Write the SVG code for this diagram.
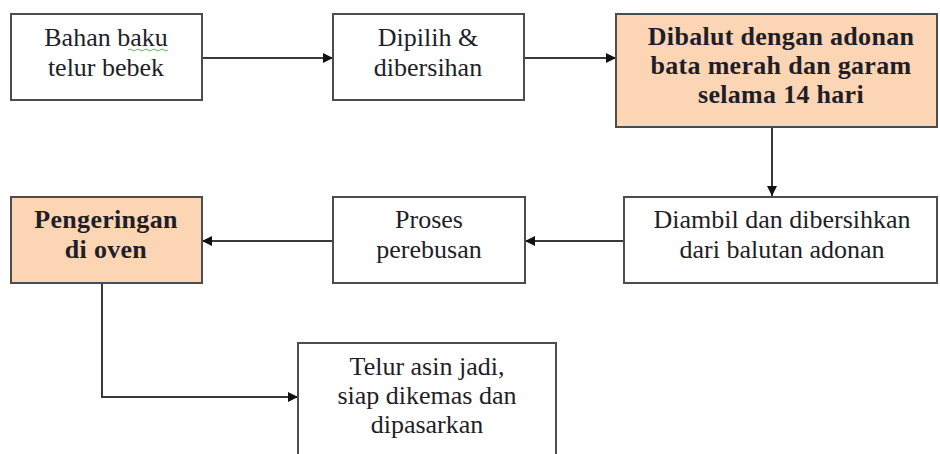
<svg xmlns="http://www.w3.org/2000/svg" width="940" height="454" viewBox="0 0 940 454">
<style>
.box{fill:#fff;stroke:#4d4d4d;stroke-width:2}
.hl{fill:#fcd5b4}
.t{font-family:"Liberation Serif","Times New Roman",serif;font-size:26px;fill:#1e1e28;text-anchor:middle}
.b{font-weight:bold;letter-spacing:0.3px}
.c{fill:none;stroke:#3a3a3a;stroke-width:2}
</style>
<defs>
<marker id="ah" viewBox="0 0 10 10" refX="10" refY="5" markerWidth="12" markerHeight="10" markerUnits="userSpaceOnUse" orient="auto">
<path d="M0,0 L10,5 L0,10 Z" fill="#111"/>
</marker>
</defs>
<rect width="940" height="454" fill="#fff"/>
<g id="connectors">
<line class="c" x1="202" y1="58" x2="333" y2="58" marker-end="url(#ah)"/>
<line class="c" x1="524" y1="58" x2="616" y2="58" marker-end="url(#ah)"/>
<line class="c" x1="772" y1="127" x2="772" y2="196" marker-end="url(#ah)"/>
<line class="c" x1="624" y1="241" x2="525" y2="241" marker-end="url(#ah)"/>
<line class="c" x1="333" y1="241" x2="202" y2="241" marker-end="url(#ah)"/>
<polyline class="c" points="102,283 102,397 298,397" marker-end="url(#ah)"/>
</g>
<g id="n1">
<rect class="box" x="11" y="14" width="191" height="86"/>
<text class="t" x="106" y="46">Bahan baku</text>
<text class="t" x="106" y="76">telur bebek</text>
<path d="M128,50 q2,-2 4,0 t4,0 t4,0 t4,0 t4,0 t4,0 t4,0 t4,0 t4,0 t4,0" fill="none" stroke="#5cb85c" stroke-width="1"/>
</g>
<g id="n2">
<rect class="box" x="333" y="14" width="191" height="86"/>
<text class="t" x="428" y="46">Dipilih &amp;</text>
<text class="t" x="428" y="76">dibersihan</text>
</g>
<g id="n3">
<rect class="box hl" x="616" y="14" width="321" height="113"/>
<text class="t b" x="781" y="45">Dibalut dengan adonan</text>
<text class="t b" x="781" y="74">bata merah dan garam</text>
<text class="t b" x="781" y="103">selama 14 hari</text>
</g>
<g id="n4">
<rect class="box" x="624" y="197" width="313" height="86"/>
<text class="t" x="782" y="228">Diambil dan dibersihkan</text>
<text class="t" x="782" y="258">dari balutan adonan</text>
</g>
<g id="n5">
<rect class="box" x="333" y="197" width="192" height="86"/>
<text class="t" x="429" y="228">Proses</text>
<text class="t" x="429" y="258">perebusan</text>
</g>
<g id="n6">
<rect class="box hl" x="11" y="197" width="191" height="86"/>
<text class="t b" x="106" y="228">Pengeringan</text>
<text class="t b" x="106" y="258">di oven</text>
</g>
<g id="n7">
<rect class="box" x="298" y="343" width="258" height="120"/>
<text class="t" x="427" y="375">Telur asin jadi,</text>
<text class="t" x="427" y="404">siap dikemas dan</text>
<text class="t" x="427" y="433">dipasarkan</text>
</g>
</svg>
